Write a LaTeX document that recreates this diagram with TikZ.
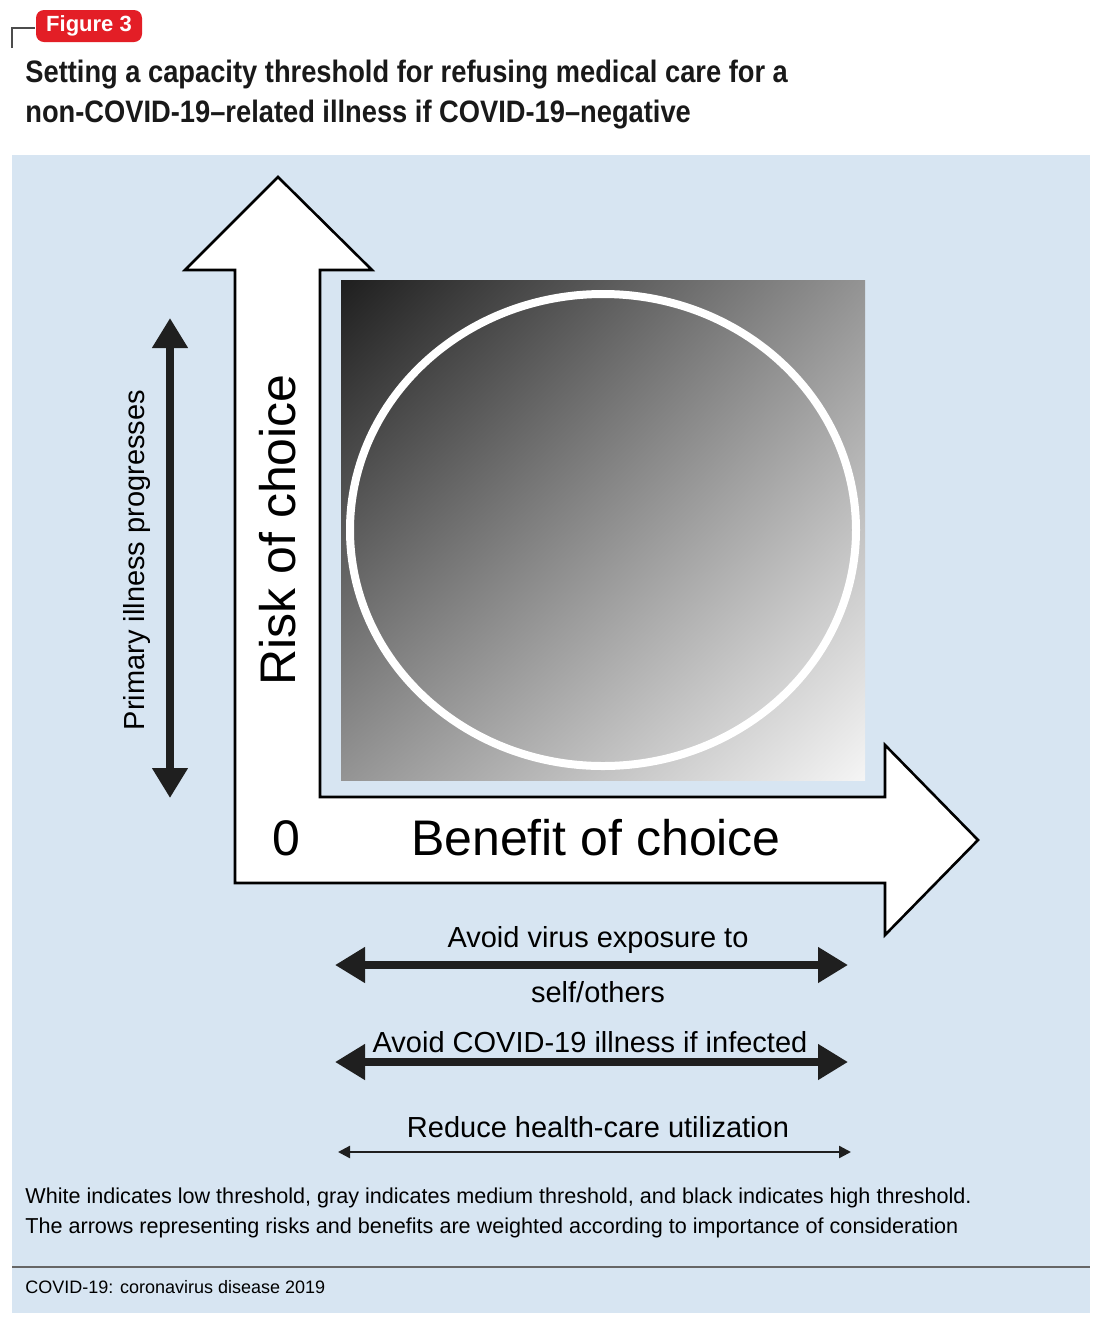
\documentclass[tikz,border=0pt]{standalone}
\usepackage{fontspec}
\setmainfont{Liberation Sans}
\usetikzlibrary{arrows.meta,shadings}
\definecolor{bg}{HTML}{D7E5F2}
\definecolor{figred}{HTML}{E31E26}
\tikzset{
  thickarr/.style={line width=4pt,{Triangle[length=15pt,width=17pt]}-{Triangle[length=15pt,width=17pt]},color=black!88},
  thinarr/.style={line width=1.2pt,{Triangle[length=6pt,width=6pt]}-{Triangle[length=6pt,width=6pt]},color=black!88},
  lbl/.style={font=\fontsize{14.5}{17}\selectfont,inner sep=0pt},
  axislbl/.style={font=\fontsize{25}{30}\selectfont,inner sep=0pt},
}
\begin{document}
\begin{tikzpicture}[x=0.5pt,y=-0.5pt]
\useasboundingbox (0,0) rectangle (1100,1330);
\fill[white] (0,0) rectangle (1100,1330);
\fill[bg] (12,155) rectangle (1090,1313);
\draw[black!70,line width=0.8pt] (12,48) -- (12,28) -- (35,28);
\node[fill=figred,rounded corners=4pt,minimum width=53pt,minimum height=16pt,text=white,font=\bfseries\fontsize{11}{13}\selectfont,inner sep=0pt] (fig) at (89,26) {Figure 3};
\node[anchor=west,inner sep=0pt,font=\bfseries\fontsize{15.5}{19}\selectfont,text=black!90] (t1) at (25,75) {\scalebox{0.88}[1]{Setting a capacity threshold for refusing medical care for a}};
\node[anchor=west,inner sep=0pt,font=\bfseries\fontsize{15.5}{19}\selectfont,text=black!90] (t2) at (25,115) {\scalebox{0.88}[1]{non-COVID-19–related illness if COVID-19–negative}};
% L arrow
\draw[fill=white,line width=1.3pt,line join=miter] (278,177) -- (372,270) -- (320,270) -- (320,797) -- (885,797) -- (885,745) -- (978,840) -- (885,935) -- (885,883) -- (235,883) -- (235,270) -- (185,270) -- cycle;
\shade[upper left=black!88,upper right=black!42,lower left=black!42,lower right=black!4] (341,280) rectangle (865,780);
\draw[white,line width=4pt] (603,530) ellipse [x radius=253, y radius=236];
\node[axislbl,rotate=90] (risk) at (278,530) {Risk of choice};
\node[axislbl] (zero) at (286,838) {0};
\node[axislbl] (ben) at (596,838) {Benefit of choice};
% primary illness
\coordinate (p1) at (170,318);
\coordinate (p2) at (170,798);
\draw[thickarr] (p1) -- (p2);
\node[lbl,rotate=90] (prim) at (137,560) {Primary illness progresses};
% horizontal arrows
\coordinate (a1) at (335,965); \coordinate (a2) at (848,965);
\draw[thickarr] (a1) -- (a2);
\node[lbl] (av1) at (598,940) {Avoid virus exposure to};
\node[lbl] (av2) at (598,992) {self/others};
\coordinate (b1) at (335,1062); \coordinate (b2) at (848,1062);
\draw[thickarr] (b1) -- (b2);
\node[lbl,fill=bg,inner sep=1pt] (bv) at (590,1042) {Avoid COVID-19 illness if infected};
\coordinate (c1) at (338,1152); \coordinate (c2) at (851,1152);
\draw[thinarr] (c1) -- (c2);
\node[lbl] (cv) at (598,1127) {Reduce health-care utilization};
% caption
\node[anchor=west,inner sep=0pt,font=\fontsize{10.8}{13}\selectfont] (cap1) at (25,1198) {White indicates low threshold, gray indicates medium threshold, and black indicates high threshold.};
\node[anchor=west,inner sep=0pt,font=\fontsize{10.8}{13}\selectfont] (cap2) at (25,1228) {The arrows representing risks and benefits are weighted according to importance of consideration};
\draw[black!60,line width=0.6pt] (12,1267) -- (1090,1267);
\node[anchor=west,inner sep=0pt,font=\fontsize{9}{11}\selectfont] (foot) at (25,1287) {COVID-19: coronavirus disease 2019};
\end{tikzpicture}
\end{document}
